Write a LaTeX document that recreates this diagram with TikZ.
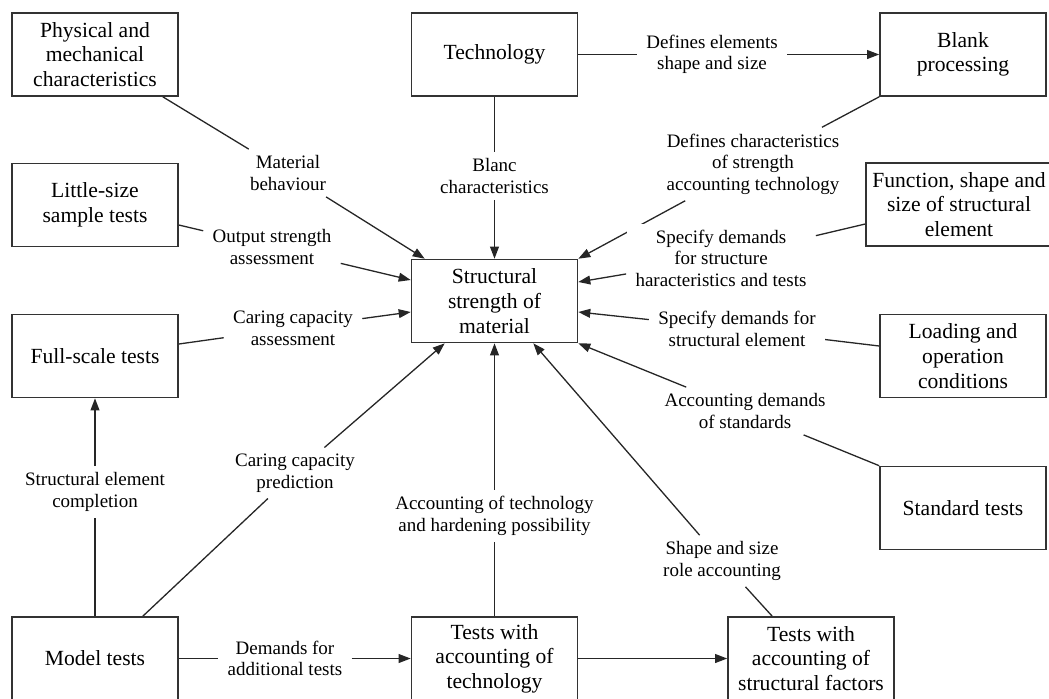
\documentclass[tikz,border=0pt]{standalone}
\usepackage{fontspec}
\setmainfont{Liberation Serif}
\usetikzlibrary{arrows.meta,backgrounds}

\begin{document}
\begin{tikzpicture}[x=0.5pt,y=-0.5pt,
  box/.style={draw=black!80,line width=0.8pt,minimum width=83pt,minimum height=41.5pt,
    align=center,inner sep=2pt,font=\fontsize{10.8}{12.3}\selectfont},
  lbl/.style={fill=white,align=center,inner xsep=4.5pt,inner ysep=3pt,
    font=\fontsize{9.5}{10.8}\selectfont},
  conn/.style={draw=black!85,line width=0.65pt},
  tip/.style={conn,-{Triangle[length=6pt,width=4.4pt]}}]
\useasboundingbox (0,0) rectangle (1049,698);

% boxes
\node[box] (phys) at (95,54.5) {Physical and\\mechanical\\characteristics};
\node[box] (little) at (95,205) {Little-size\\sample tests};
\node[box] (full) at (95,356) {Full-scale tests};
\node[box] (model) at (95,658.5) {Model tests};
\node[box] (tech) at (494.5,54.5) {Technology};
\node[box] (blank) at (963,54.5) {Blank\\processing};
\node[box,minimum width=93pt] (func) at (959,204.5) {Function, shape and\\size of structural\\element};
\node[box] (load) at (963,356) {Loading and\\operation\\conditions};
\node[box] (std) at (963,508) {Standard tests};
\node[box] (central) at (494.5,301) {Structural\\strength of\\material};
\node[box] (techtest) at (494.5,658.5) {Tests with\\accounting of\\technology};
\node[box] (structtest) at (811,658.5) {Tests with\\accounting of\\structural factors};

% labels
\node[lbl] (lbltech) at (712,54.5) {Defines elements\\shape and size};
\node[lbl] (lblblanc) at (494.5,176) {Blanc\\characteristics};
\node[lbl] (lblmat) at (288,173) {Material\\behaviour};
\node[lbl] (lblout) at (272,247) {Output strength\\assessment};
\node[lbl] (lblcarass) at (293,328) {Caring capacity\\assessment};
\node[lbl] (lblcarpred) at (295,473) {Caring capacity\\prediction};
\node[lbl] (lblcompl) at (95,492) {Structural element\\completion};
\node[lbl] (lblhard) at (494.5,516) {Accounting of technology\\and hardening possibility};
\node[lbl] (lbldemand) at (285,658.5) {Demands for\\additional tests};
\node[lbl] (lblshape) at (722,561) {Shape and size\\role accounting};
\node[lbl] (lblstd) at (745,411) {Accounting demands\\of standards};
\node[lbl] (lblload) at (737,329) {Specify demands for\\structural element};
\node[lbl] (lblfunc) at (721,258) {Specify demands\\for structure\\haracteristics and tests};
\node[lbl] (lbldef) at (753,164) {Defines characteristics\\of strength\\accounting technology};

% connectors
\begin{scope}[on background layer]
\draw[conn] (tech.east) -- (lbltech);
\draw[tip] (lbltech) -- (blank.west);
\draw[conn] (tech.south) -- (lblblanc);
\draw[tip] (lblblanc) -- (central.north);
\draw[conn] ([xshift=-8pt]phys.south east) -- (lblmat);
\draw[tip] (lblmat) -- ([xshift=7pt]central.north west);
\draw[conn] ([yshift=-10pt]little.east) -- (lblout);
\draw[tip] (lblout) -- ([yshift=10.5pt]central.west);
\draw[conn] ([yshift=6pt]full.east) -- (lblcarass);
\draw[tip] (lblcarass) -- ([yshift=-5.5pt]central.west);
\draw[conn] ([xshift=-18pt]model.north east) -- (lblcarpred);
\draw[tip] (lblcarpred) -- ([xshift=17pt]central.south west);
\draw[conn] (model.north) -- (lblcompl);
\draw[tip] (lblcompl) -- (full.south);
\draw[conn] (techtest.north) -- (lblhard);
\draw[tip] (lblhard) -- (central.south);
\draw[conn] (model.east) -- (lbldemand);
\draw[tip] (lbldemand) -- (techtest.west);
\draw[tip] (techtest.east) -- (structtest.west);
\draw[conn] ([xshift=22.5pt]structtest.north west) -- (lblshape);
\draw[tip] (lblshape) -- ([xshift=-22.5pt]central.south east);
\draw[conn] (std.north west) -- (lblstd);
\draw[tip] (lblstd) -- (central.south east);
\draw[conn] ([yshift=5pt]load.west) -- (lblload);
\draw[tip] (lblload) -- ([yshift=-5.5pt]central.east);
\draw[conn] ([yshift=-9.75pt]func.west) -- (lblfunc);
\draw[tip] (lblfunc) -- ([yshift=9.5pt]central.east);
\draw[conn] (blank.south west) -- (lbldef);
\draw[tip] (lbldef) -- (central.north east);
\end{scope}
\end{tikzpicture}
\end{document}
